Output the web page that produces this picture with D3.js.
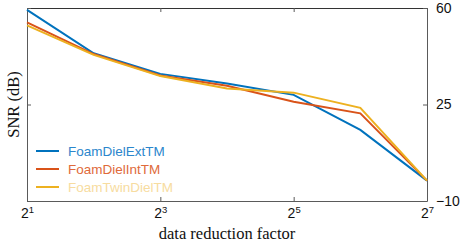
<!DOCTYPE html>
<html>
<head>
<meta charset="utf-8">
<script src="https://cdn.jsdelivr.net/npm/d3@7"></script>
<style>
  body { margin: 0; background: #fff; }
</style>
</head>
<body>
<div class="chart"></div>
<script>
// data reduction factor exponents (2^n)
const exponents = [1, 2, 3, 4, 5, 6, 7];
const xTicks = [1, 3, 5, 7];
const yTicks = [-10, 25, 60];

// SNR values (dB)
const foamDielExt = [59.3, 43.6, 36.1, 32.6, 28.5, 15.8, -2.6];
const foamDielInt = [54.8, 43.3, 35.5, 31.8, 26.0, 21.8, -2.6];
const foamTwinDiel = [53.7, 43.0, 35.3, 30.8, 29.3, 23.8, -2.6];

const seriesNames = ["FoamDielExtTM", "FoamDielIntTM", "FoamTwinDielTM"];
const seriesColors = ["#0072BD", "#D95319", "#EDB120"];
const textColors = ["#2b86cc", "#e06a3a", "#f7dca0"];
const seriesValues = [foamDielExt, foamDielInt, foamTwinDiel];

const W = 463, H = 244;
const margin = { left: 27, right: 36, top: 8, bottom: 43 };

const svg = d3.select(".chart").append("svg")
  .attr("width", W)
  .attr("height", H);

const x = d3.scaleLinear().domain([1, 7]).range([margin.left, W - margin.right]);
const y = d3.scaleLinear().domain([-10, 60]).range([H - margin.bottom, margin.top]);

const axisColor = "#5a5a5a";
const font = "'Liberation Sans', Arial, sans-serif";

// bottom axis, labels drawn as 2 with a raised exponent
const xb = svg.append("g")
  .attr("transform", `translate(0,${y(-10)})`)
  .call(d3.axisBottom(x).tickValues(xTicks).tickSizeInner(-4).tickSizeOuter(0).tickPadding(9).tickFormat(""));
xb.selectAll(".tick").each(function(d) {
  const t = d3.select(this).append("text")
    .attr("y", 17)
    .attr("text-anchor", "middle")
    .attr("fill", "#111")
    .style("font-family", font)
    .style("font-size", "14px");
  t.append("tspan").text("2");
  t.append("tspan").attr("dy", -5).style("font-size", "9.5px").text(d);
});
// top axis, ticks only
const xt = svg.append("g")
  .attr("transform", `translate(0,${y(60)})`)
  .call(d3.axisTop(x).tickValues(xTicks).tickSizeInner(-4).tickSizeOuter(0).tickFormat(""));
// left axis, ticks only
const yl = svg.append("g")
  .attr("transform", `translate(${x(1)},0)`)
  .call(d3.axisLeft(y).tickValues(yTicks).tickSizeInner(-4).tickSizeOuter(0).tickFormat(""));
// right axis with labels
const yr = svg.append("g")
  .attr("transform", `translate(${x(7)},0)`)
  .call(d3.axisRight(y).tickValues(yTicks).tickSizeInner(-4).tickSizeOuter(0).tickPadding(9));

[xb, xt, yl, yr].forEach(g => {
  g.select(".domain").attr("stroke", axisColor);
  g.selectAll(".tick line").attr("stroke", axisColor);
});
yr.selectAll("text")
  .attr("fill", "#111")
  .style("font-family", font)
  .style("font-size", "14px");
xt.select(".domain").attr("stroke", "#333");

// lines
const line = d3.line()
  .x((d, i) => x(exponents[i]))
  .y(d => y(d));

seriesValues.forEach((vals, k) => {
  svg.append("path")
    .datum(vals)
    .attr("fill", "none")
    .attr("stroke", seriesColors[k])
    .attr("stroke-width", 2)
    .attr("d", line);
});

// legend
const legend = svg.append("g").attr("transform", "translate(36,151)");
seriesNames.forEach((name, k) => {
  const g = legend.append("g").attr("transform", `translate(0,${k * 18})`);
  g.append("line")
    .attr("x1", 0).attr("x2", 23)
    .attr("stroke", seriesColors[k])
    .attr("stroke-width", 2);
  g.append("text")
    .attr("x", 32).attr("y", 5)
    .attr("fill", textColors[k])
    .style("font-family", font)
    .style("font-size", "13.5px")
    .text(name);
});

// axis titles
svg.append("text")
  .attr("x", (x(1) + x(7)) / 2)
  .attr("y", 239)
  .attr("text-anchor", "middle")
  .style("font-family", "'Liberation Serif', 'Times New Roman', serif")
  .style("font-size", "16.5px")
  .attr("fill", "#111")
  .text("data reduction factor");

svg.append("text")
  .attr("transform", `translate(19,${y(25)}) rotate(-90)`)
  .attr("text-anchor", "middle")
  .style("font-family", "'Liberation Serif', 'Times New Roman', serif")
  .style("font-size", "16.5px")
  .attr("fill", "#111")
  .text("SNR (dB)");
</script>
</body>
</html>
